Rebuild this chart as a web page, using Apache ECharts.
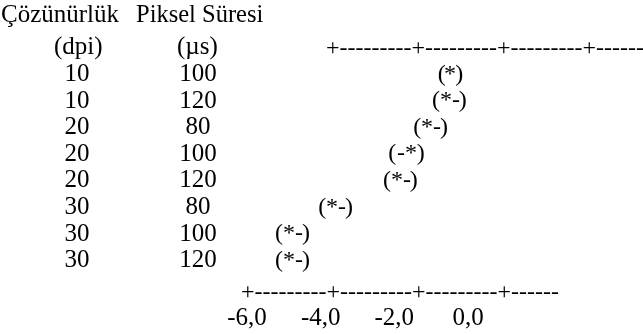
<!DOCTYPE html>
<html>
<head>
<meta charset="utf-8">
<script src="https://cdn.jsdelivr.net/npm/echarts@6/dist/echarts.min.js"></script>
<style>
  html, body { margin: 0; padding: 0; background: #fff; }
  #chart { width: 643px; height: 334px; }
</style>
</head>
<body>
<div id="chart"></div>
<script>
// ---- data ----
const resolution = ['10', '10', '20', '20', '20', '30', '30', '30'];
const pixelTime  = ['100', '120', '80', '100', '120', '80', '100', '120'];
const lower  = [-0.71, -0.87, -1.38, -2.06, -2.20, -3.96, -5.13, -5.13];
const center = [-0.49, -0.60, -1.11, -1.55, -1.93, -3.69, -4.86, -4.86];
const upper  = [-0.24, -0.14, -0.65, -1.28, -1.47, -3.23, -4.40, -4.40];
const xTicks = [-6, -4, -2, 0];
const headers = { res: 'Çözünürlük', resUnit: '(dpi)', time: 'Piksel Süresi', timeUnit: '(µs)' };
const topRuler = '+---------+---------+---------+--------';
const bottomRuler = '+---------+---------+---------+------';

const FONT = '"Liberation Serif", "Times New Roman", serif';
const FS = 25;
const MFS = 24;

const rows = resolution.map((r, i) => r + '|' + pixelTime[i]);
const seriesData = rows.map((r, i) => [lower[i], center[i], upper[i], i]);

const chart = echarts.init(document.getElementById('chart'));

function txt(x, y, s) {
  return {
    type: 'text',
    style: { x: x, y: y, text: s, fill: '#000', font: MFS + 'px ' + FONT, textAlign: 'center', textVerticalAlign: 'middle' }
  };
}

const option = {
  animation: false,
  backgroundColor: '#fff',
  grid: { left: 247, right: 175, top: 61, bottom: 60 },
  xAxis: {
    type: 'value', min: xTicks[0], max: xTicks[xTicks.length - 1], interval: 2,
    axisLine: { show: false }, axisTick: { show: false }, splitLine: { show: false },
    axisLabel: {
      margin: 32, color: '#000', fontFamily: FONT, fontSize: FS,
      formatter: v => v.toFixed(1).replace('.', ',')
    }
  },
  yAxis: [
    {
      type: 'category', inverse: true, data: rows,
      axisLine: { show: false }, axisTick: { show: false }, splitLine: { show: false },
      axisLabel: { interval: 0, margin: 247 - 77, align: 'center', color: '#000', fontFamily: FONT, fontSize: FS,
        formatter: v => v.split('|')[0] }
    },
    {
      type: 'category', inverse: true, data: rows, position: 'left',
      axisLine: { show: false }, axisTick: { show: false }, splitLine: { show: false },
      axisLabel: { interval: 0, margin: 247 - 198, align: 'center', color: '#000', fontFamily: FONT, fontSize: FS,
        formatter: v => v.split('|')[1] }
    }
  ],
  graphic: [
    { type: 'text', left: 1, top: 3, style: { text: headers.res, fill: '#000', font: FS + 'px ' + FONT } },
    { type: 'text', left: 136, top: 3, style: { text: headers.time, fill: '#000', font: '24.5px ' + FONT } },
    { type: 'text', left: 54, top: 35, style: { text: headers.resUnit, fill: '#000', font: FS + 'px ' + FONT } },
    { type: 'text', left: 177, top: 35, style: { text: headers.timeUnit, fill: '#000', font: FS + 'px ' + FONT } },
    { type: 'text', left: 326, top: 37, style: { text: topRuler, fill: '#000', font: '24px ' + FONT } },
    { type: 'text', left: 241, top: 281, style: { text: bottomRuler, fill: '#000', font: '24px ' + FONT } }
  ],
  series: [{
    type: 'custom',
    data: seriesData,
    encode: { x: [0, 1, 2], y: 3 },
    renderItem: function (params, api) {
      const row = api.value(3);
      const y = api.coord([0, row])[1];
      const xl = api.coord([api.value(0), row])[0];
      const xc = api.coord([api.value(1), row])[0];
      const xu = api.coord([api.value(2), row])[0];
      const children = [txt(xl, y, '('), txt(xc, y, '*'), txt(xu, y, ')')];
      const nR = Math.max(0, Math.round((xu - xc - 10) / 8));
      for (let k = 0; k < nR; k++) children.push(txt(xc + 10 + 8 * k, y, '-'));
      const nL = Math.max(0, Math.round((xc - xl - 10) / 8));
      for (let k = 0; k < nL; k++) children.push(txt(xc - 10 - 8 * k, y, '-'));
      return { type: 'group', children: children };
    }
  }]
};
chart.setOption(option);
</script>
</body>
</html>
